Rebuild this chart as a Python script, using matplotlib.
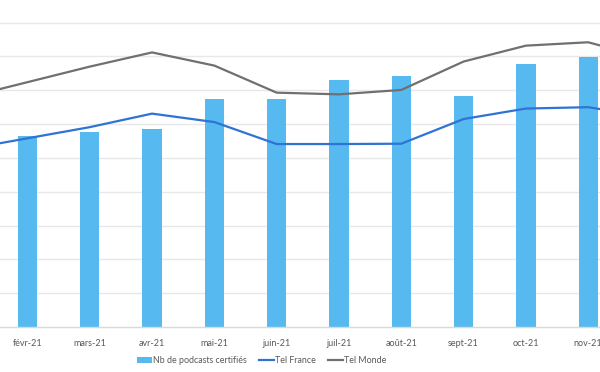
import numpy as np
import matplotlib.pyplot as plt

plt.rcParams['font.family'] = ['Lato', 'DejaVu Sans']

# monthly data, jan-21 .. dec-21 (jan and dec bars fall outside the visible crop)
mois = ['janv-21', 'févr-21', 'mars-21', 'avr-21', 'mai-21', 'juin-21',
        'juil-21', 'août-21', 'sept-21', 'oct-21', 'nov-21', 'déc-21']
nb_podcasts = [np.nan, 5.66, 5.76, 5.86, 6.75, 6.75, 7.29, 7.41, 6.83, 7.77, 7.98, np.nan]
tel_france = [5.25, 5.58, 5.91, 6.31, 6.06, 5.41, 5.41, 5.42, 6.15, 6.46, 6.50, 6.21]
tel_monde = [6.78, 7.24, 7.70, 8.12, 7.73, 6.93, 6.88, 7.01, 7.85, 8.32, 8.42, 7.93]

x = np.arange(len(mois))

fig = plt.figure(figsize=(6, 3.72), dpi=100)
ax = fig.add_axes([0, 0.121, 1, 0.879])

bars = ax.bar(x, nb_podcasts, width=0.31, color='#56B9F0', zorder=2,
              label='Nb de podcasts certifiés')
l1, = ax.plot(x, tel_france, color='#2F73D4', lw=1.6, zorder=3, label='Tel France')
l2, = ax.plot(x, tel_monde, color='#707070', lw=1.6, zorder=3, label='Tel Monde')

ax.set_yticks(range(1, 10))
ax.yaxis.grid(True, color='#e8e8e8', lw=1, zorder=0)
ax.tick_params(axis='y', left=False, labelleft=False)
ax.set_xticks(x)
ax.set_xticklabels(mois, fontsize=6.5, color='#595959')
ax.tick_params(axis='x', length=0, pad=9)
# the picture is a crop: only part of jan and dec is in view
ax.set_xlim(0.559, 10.19)
ax.set_ylim(0, 9.67)
for s in ['top', 'left', 'right']:
    ax.spines[s].set_visible(False)
ax.spines['bottom'].set_color('#d9d9d9')
ax.spines['bottom'].set_linewidth(1)

fig.legend(handles=[bars, l1, l2], loc='center', bbox_to_anchor=(0.436, 0.03),
           ncol=3, frameon=False, fontsize=6.4, labelcolor='#595959',
           handlelength=1.7, handleheight=0.6, handletextpad=0.15, columnspacing=1.3)

fig.savefig('out.png', dpi=100)
